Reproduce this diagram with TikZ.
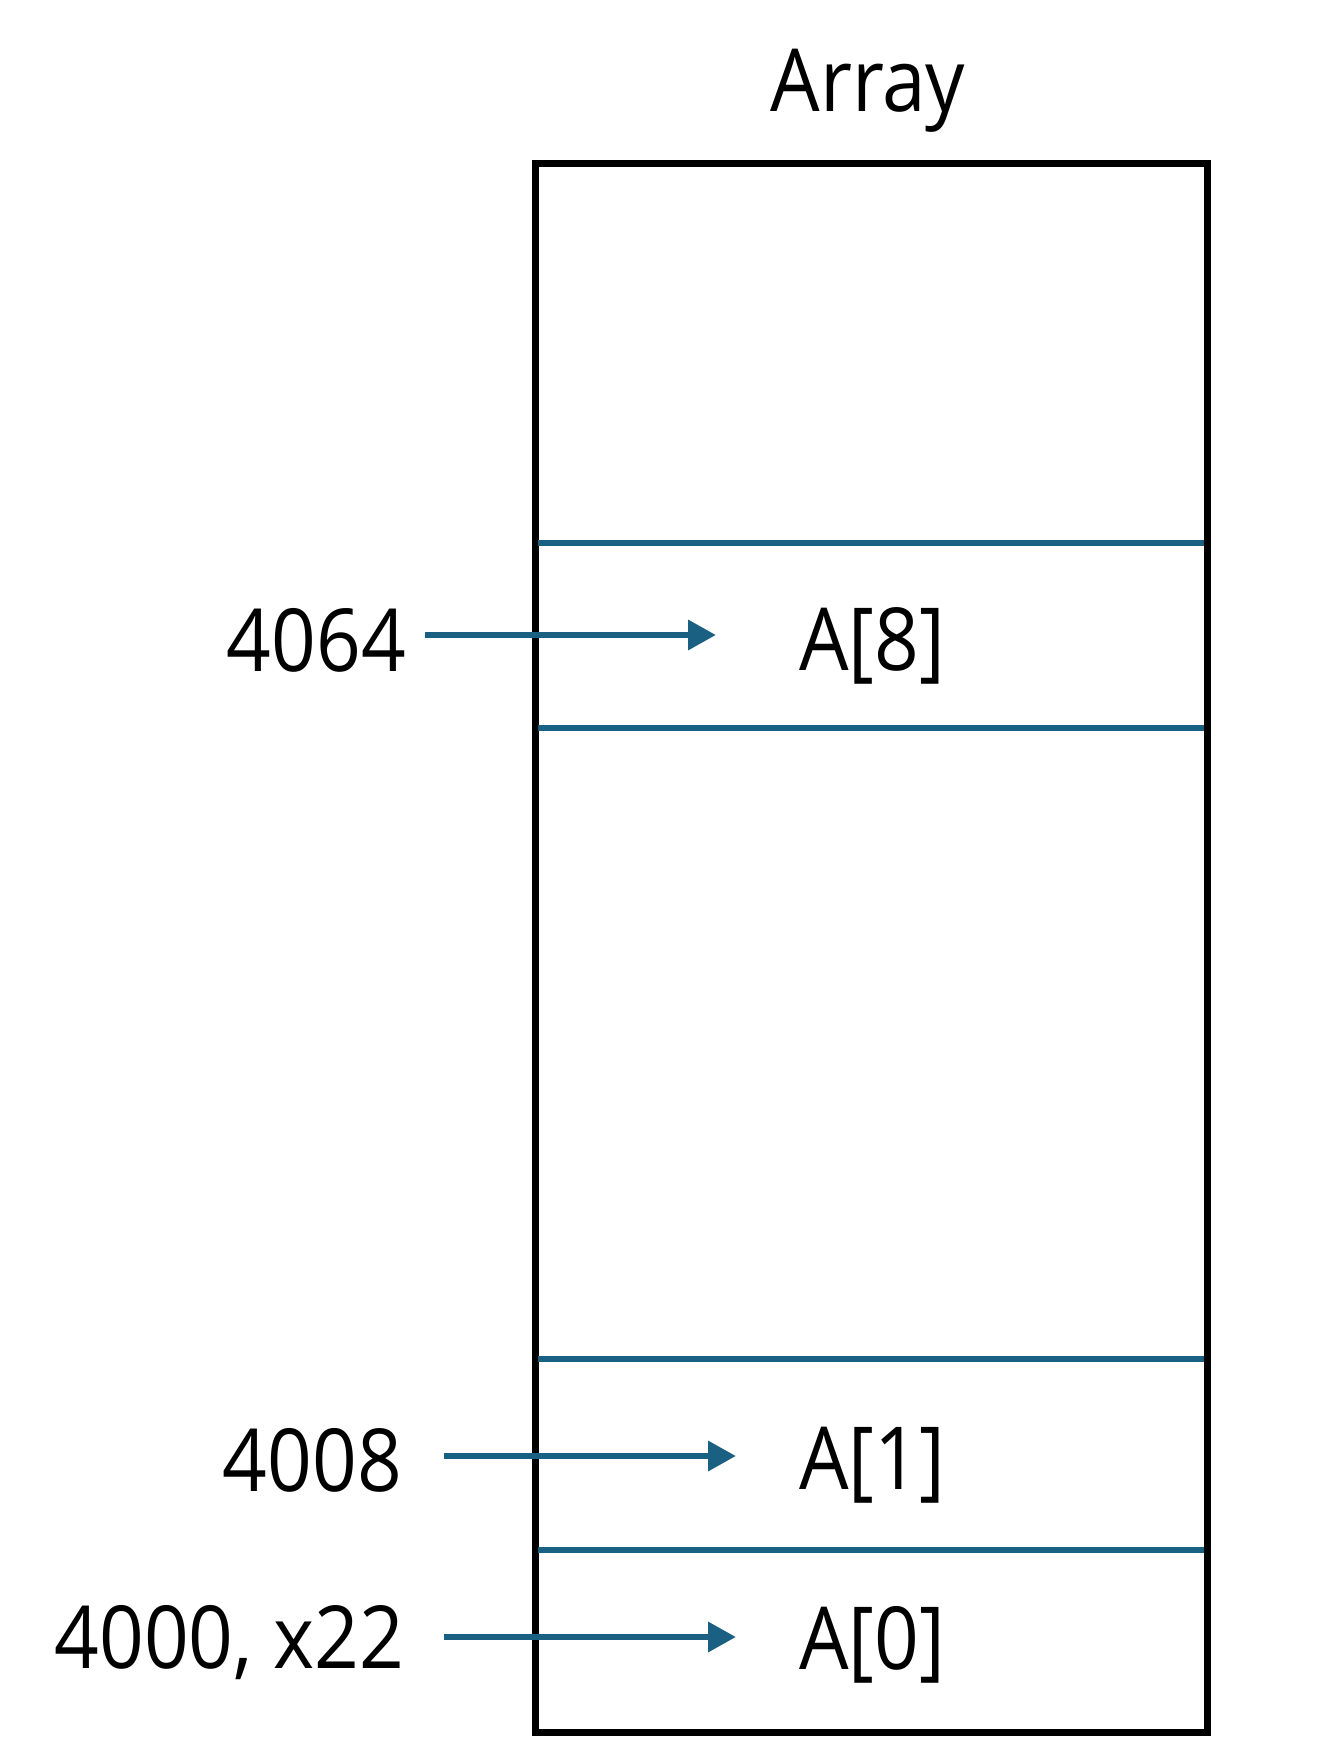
\documentclass[tikz,border=0pt]{standalone}
\usepackage{fontspec}
\setmainfont[FakeStretch=0.9]{Open Sans}
\usetikzlibrary{arrows.meta}
\definecolor{cellblue}{RGB}{26,96,130}
\begin{document}
\begin{tikzpicture}[x=1pt,y=-1pt,
  txt/.style={font=\fontsize{87}{100}\selectfont, inner sep=0pt, text=black},
  sep/.style={draw=cellblue, line width=6.5pt},
  arr/.style={draw=cellblue, line width=6.5pt, -{Triangle[length=28pt,width=29pt]}},
  frame/.style={draw=black, line width=7pt}]
\useasboundingbox (0,0) rectangle (1320,1760);
% outer box
\draw[frame] (535,164) rectangle (1207,1732);
% separators
\coordinate (a1) at (538,543);  \coordinate (b1) at (1204,543);
\coordinate (a2) at (538,728);  \coordinate (b2) at (1204,728);
\coordinate (a3) at (538,1359); \coordinate (b3) at (1204,1359);
\coordinate (a4) at (538,1550); \coordinate (b4) at (1204,1550);
\draw[sep] (a1) -- (b1);
\draw[sep] (a2) -- (b2);
\draw[sep] (a3) -- (b3);
\draw[sep] (a4) -- (b4);
% texts
\node[txt, anchor=base] (title) at (868,112) {Array};
\node[txt, anchor=base] (c8) at (872,670) {A[8]};
\node[txt, anchor=base] (c1) at (872,1489) {A[1]};
\node[txt, anchor=base] (c0) at (872,1669) {A[0]};
\node[txt, anchor=base east] (l8) at (406,671) {4064};
\node[txt, anchor=base east] (l1) at (402,1491) {4008};
\node[txt, anchor=base east] (l0) at (404,1668) {4000, x22};
% arrows
\coordinate (s8) at (425,635);  \coordinate (t8) at (716,635);
\coordinate (s1) at (444,1456); \coordinate (t1) at (736,1456);
\coordinate (s0) at (444,1637); \coordinate (t0) at (736,1637);
\draw[arr] (s8) -- (t8);
\draw[arr] (s1) -- (t1);
\draw[arr] (s0) -- (t0);
\end{tikzpicture}
\end{document}
